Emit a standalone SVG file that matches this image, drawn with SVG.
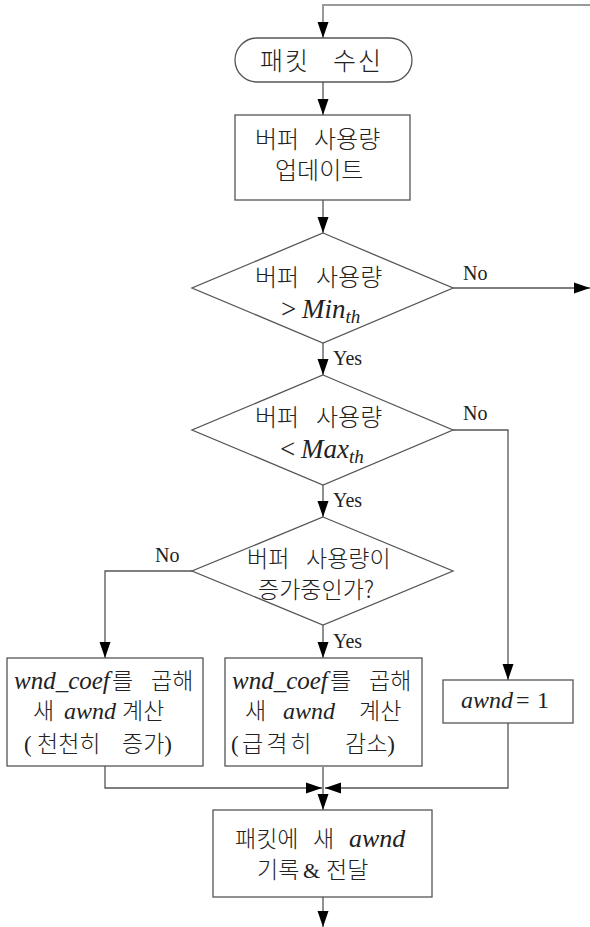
<svg xmlns="http://www.w3.org/2000/svg" width="590" height="927" viewBox="0 0 590 927">
<defs>
<marker id="ah" markerUnits="userSpaceOnUse" markerWidth="16" markerHeight="12" refX="16" refY="6" orient="auto">
<path d="M0,0.5 L16,6 L0,11.5 z" fill="#000"/>
</marker>
<style>
.shape{fill:#fff;stroke:#555;stroke-width:1.3}
.ln{fill:none;stroke:#555;stroke-width:1.3}
.ko{font-family:"Noto Sans CJK KR","Liberation Serif",sans-serif;font-size:23px;fill:#222;font-weight:300}
.big{font-size:24px}
.la{font-family:"Liberation Serif","Noto Sans CJK KR",serif;fill:#222;font-weight:400}
.it{font-family:"Liberation Serif",serif;font-style:italic;fill:#222;font-weight:400}
.lbl{font-family:"Liberation Serif",serif;font-size:20px;fill:#222}
</style>
</defs>
<rect width="590" height="927" fill="#fff"/>

<g id="connectors">
<polyline class="ln" points="590,5 323,5 323,38" style="stroke:#999;stroke-width:2" marker-end="url(#ah)"/>
<line class="ln" x1="323" y1="82" x2="323" y2="115" marker-end="url(#ah)"/>
<line class="ln" x1="323" y1="200" x2="323" y2="233" marker-end="url(#ah)"/>
<line class="ln" x1="453" y1="288" x2="590" y2="288" marker-end="url(#ah)"/>
<line class="ln" x1="323" y1="343" x2="323" y2="375" marker-end="url(#ah)"/>
<polyline class="ln" points="453,430 508,430 508,680" marker-end="url(#ah)"/>
<line class="ln" x1="323" y1="485" x2="323" y2="517" marker-end="url(#ah)"/>
<polyline class="ln" points="192,571 105,571 105,658" marker-end="url(#ah)"/>
<line class="ln" x1="323" y1="625" x2="323" y2="658" marker-end="url(#ah)"/>
<polyline class="ln" points="105,766 105,788 322,788" marker-end="url(#ah)"/>
<polyline class="ln" points="508,723 508,788 325,788" marker-end="url(#ah)"/>
<line class="ln" x1="323" y1="767" x2="323" y2="810" marker-end="url(#ah)"/>
<line class="ln" x1="323" y1="897" x2="323" y2="927" marker-end="url(#ah)"/>
<text class="lbl" x="463" y="280">No</text>
<text class="lbl" x="333" y="365">Yes</text>
<text class="lbl" x="463" y="420">No</text>
<text class="lbl" x="333" y="507">Yes</text>
<text class="lbl" x="155" y="562">No</text>
<text class="lbl" x="333" y="648">Yes</text>
</g>

<g id="start">
<rect class="shape" x="235" y="38" width="177" height="44" rx="22" ry="22"/>
<text class="ko" y="70" style="font-size:25px;letter-spacing:2px"><tspan x="260">패킷</tspan><tspan x="333">수신</tspan></text>
</g>

<g id="update">
<rect class="shape" x="235" y="115" width="175" height="85"/>
<text class="ko big" y="148"><tspan x="255">버퍼</tspan><tspan x="314">사용량</tspan></text>
<text class="ko big" y="179"><tspan x="275">업데이트</tspan></text>
</g>

<g id="check-min">
<polygon class="shape" points="323,233 453,288 323,343 192,288"/>
<text class="ko big" y="286"><tspan x="255">버퍼</tspan><tspan x="316">사용량</tspan></text>
<text class="la" y="318" style="font-size:27px"><tspan x="281">&gt;</tspan><tspan class="it" x="302">Min</tspan><tspan class="it" style="font-size:19px" dy="5">th</tspan></text>
</g>

<g id="check-max">
<polygon class="shape" points="323,375 453,430 323,485 192,430"/>
<text class="ko big" y="426"><tspan x="255">버퍼</tspan><tspan x="316">사용량</tspan></text>
<text class="la" y="458" style="font-size:27px"><tspan x="280">&lt;</tspan><tspan class="it" x="301">Max</tspan><tspan class="it" style="font-size:19px" dy="5">th</tspan></text>
</g>

<g id="check-increase">
<polygon class="shape" points="323,517 453,571 323,625 192,571"/>
<text class="ko" y="567"><tspan x="247">버퍼</tspan><tspan x="306">사용량이</tspan></text>
<text class="ko" y="598"><tspan x="258">증가중인가?</tspan></text>
</g>

<g id="slow-increase">
<rect class="shape" x="7" y="658" width="196" height="108"/>
<text class="ko" y="689"><tspan class="it" x="14" style="font-size:25px">wnd_coef</tspan><tspan x="112">를</tspan><tspan x="151">곱해</tspan></text>
<text class="ko" y="719"><tspan x="33">새</tspan><tspan class="it" x="64" style="font-size:24px">awnd</tspan><tspan x="122">계산</tspan></text>
<text class="ko" y="752"><tspan class="la" x="24" style="font-size:23px">(</tspan><tspan x="37">천천히</tspan><tspan x="122">증가</tspan><tspan class="la" style="font-size:23px">)</tspan></text>
</g>

<g id="fast-decrease">
<rect class="shape" x="225" y="658" width="197" height="108"/>
<text class="ko" y="689"><tspan class="it" x="232" style="font-size:25px">wnd_coef</tspan><tspan x="330">를</tspan><tspan x="369">곱해</tspan></text>
<text class="ko" y="719"><tspan x="245">새</tspan><tspan class="it" x="283" style="font-size:24px">awnd</tspan><tspan x="359">계산</tspan></text>
<text class="ko" y="752"><tspan class="la" x="231" style="font-size:23px">(</tspan><tspan x="242" style="letter-spacing:3px">급격히</tspan><tspan x="345">감소</tspan><tspan class="la" style="font-size:23px">)</tspan></text>
</g>

<g id="awnd-one">
<rect class="shape" x="443" y="680" width="130" height="43"/>
<text class="la" y="708" style="font-size:24px"><tspan class="it" x="461">awnd</tspan><tspan x="516">=</tspan><tspan x="537">1</tspan></text>
</g>

<g id="record">
<rect class="shape" x="213" y="810" width="219" height="87"/>
<text class="ko" y="847"><tspan x="235">패킷에</tspan><tspan x="313">새</tspan><tspan class="it" x="349" style="font-size:26px">awnd</tspan></text>
<text class="ko" y="878"><tspan x="257">기록</tspan><tspan class="la" x="303" style="font-size:22px">&amp;</tspan><tspan x="326">전달</tspan></text>
</g>
</svg>
